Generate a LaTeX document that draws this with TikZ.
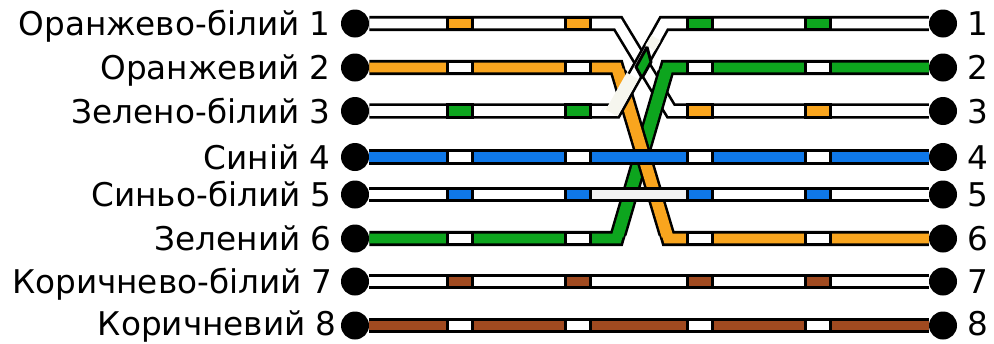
\documentclass[tikz,border=0pt]{standalone}
\usepackage{fontspec}
\setmainfont{DejaVu Sans}
\definecolor{wireorange}{HTML}{F9A51E}
\definecolor{wiregreen}{HTML}{0DA51E}
\definecolor{wireblue}{HTML}{0F78E8}
\definecolor{wirebrown}{HTML}{A04A20}
\definecolor{wireivory}{HTML}{F6F6EE}
\begin{document}
\begin{tikzpicture}
      [x=0.75pt,y=-0.75pt,
       pin node/.style={circle,fill=black,minimum size=21pt,inner sep=0pt},
       label node/.style={anchor=base east,font=\fontsize{24.5pt}{27pt}\selectfont,inner sep=0pt},
       number node/.style={anchor=base west,font=\fontsize{24.5pt}{27pt}\selectfont,inner sep=0pt},
       casing/.style={line width=11.4pt,black,line join=miter},
       core/.style={line width=7.4pt,line join=miter},
       wide casing/.style={line width=12.4pt,black,shorten <=4pt,shorten >=4pt},
       wide core/.style={line width=8.6pt,shorten <=2pt,shorten >=2pt},
       band node/.style={draw=black,line width=2.2pt,minimum width=19pt,minimum height=9.6pt,inner sep=0pt}]
        \useasboundingbox (0,0) rectangle (994,343);

        \foreach \n/\y/\x/\b/\txt in {1/23.5/331/35.5/Оранжево-білий,2/67.5/331/79.5/Оранжевий,3/111/331/123/Зелено-білий,4/157/331/169/Синій,5/194.5/332/206.5/Синьо-білий,6/238.5/332/250.5/Зелений,7/281.5/333/293.5/Коричнево-білий,8/325.5/337/335.5/Коричневий} {
          \node[pin node] (l\n) at (355,\y) {};
          \node[pin node] (r\n) at (943,\y) {};
          \node[label node] (t\n) at (\x,\b) {\txt\ \n};
          \node[number node] (u\n) at (967,\b) {\n};
        }

        \coordinate (ca) at (618,23.5);
        \coordinate (cb) at (671,111);
        \coordinate (cc) at (615,111);
        \coordinate (cd) at (664,23.5);
        \coordinate (ce) at (617,67.5);
        \coordinate (cf) at (668,238.5);
        \coordinate (cg) at (617,238.5);
        \coordinate (ch) at (667,67.5);

        % crossed pairs, lowest first
        \draw[casing] (l1) -- (ca) -- (cb) -- (r3);
        \draw[core,white] (l1) -- (ca) -- (cb) -- (r3);
        \draw[casing] (l6) -- (cg) -- (ch) -- (r2);
        \draw[wide casing] (cg) -- (ch);
        \draw[core,wiregreen] (l6) -- (cg) -- (ch) -- (r2);
        \draw[wide core,wiregreen] (cg) -- (ch);
        \draw[casing] (l2) -- (ce) -- (cf) -- (r6);
        \draw[wide casing] (ce) -- (cf);
        \draw[core,wireorange] (l2) -- (ce) -- (cf) -- (r6);
        \draw[wide core,wireorange] (ce) -- (cf);
        \draw[casing] (l3) -- (cc) -- (cd) -- (r1);
        \draw[core,white] (l3) -- (cc) -- (cd) -- (r1);
        \draw[line width=10pt,wireivory] (611.5,113) -- (632.5,76);
        \draw[line width=8pt,wireivory] (650,48) -- (656,38);

        % striped part on the crossing
        \draw[line width=2.2pt,line join=bevel,fill=wiregreen] (647,47) -- (651,62) -- (642,78) -- (636,67) -- cycle;

        % straight pairs
        \draw[casing] (l4) -- (r4);
        \draw[core,wireblue] (l4) -- (r4);
        \draw[casing] (l5) -- (r5);
        \draw[core,white] (l5) -- (r5);
        \draw[core,black!5] (591,194.5) -- (687,194.5);
        \draw[casing] (l7) -- (r7);
        \draw[core,white] (l7) -- (r7);
        \draw[casing] (l8) -- (r8);
        \draw[core,wirebrown] (l8) -- (r8);

        \foreach \n/\y/\ca/\cb in {1/23.5/wireorange/wiregreen,2/67.5/white/white,3/111/wiregreen/wireorange,4/157/white/white,5/194.5/wireblue/wireblue,6/238.5/white/white,7/281.5/wirebrown/wirebrown,8/325.5/white/white} {
          \node[band node,fill=\ca] (ba\n) at (460,\y) {};
          \node[band node,fill=\ca] (bb\n) at (578,\y) {};
          \node[band node,fill=\cb] (bc\n) at (700,\y) {};
          \node[band node,fill=\cb] (bd\n) at (818,\y) {};
        }
      \end{tikzpicture}
\end{document}
